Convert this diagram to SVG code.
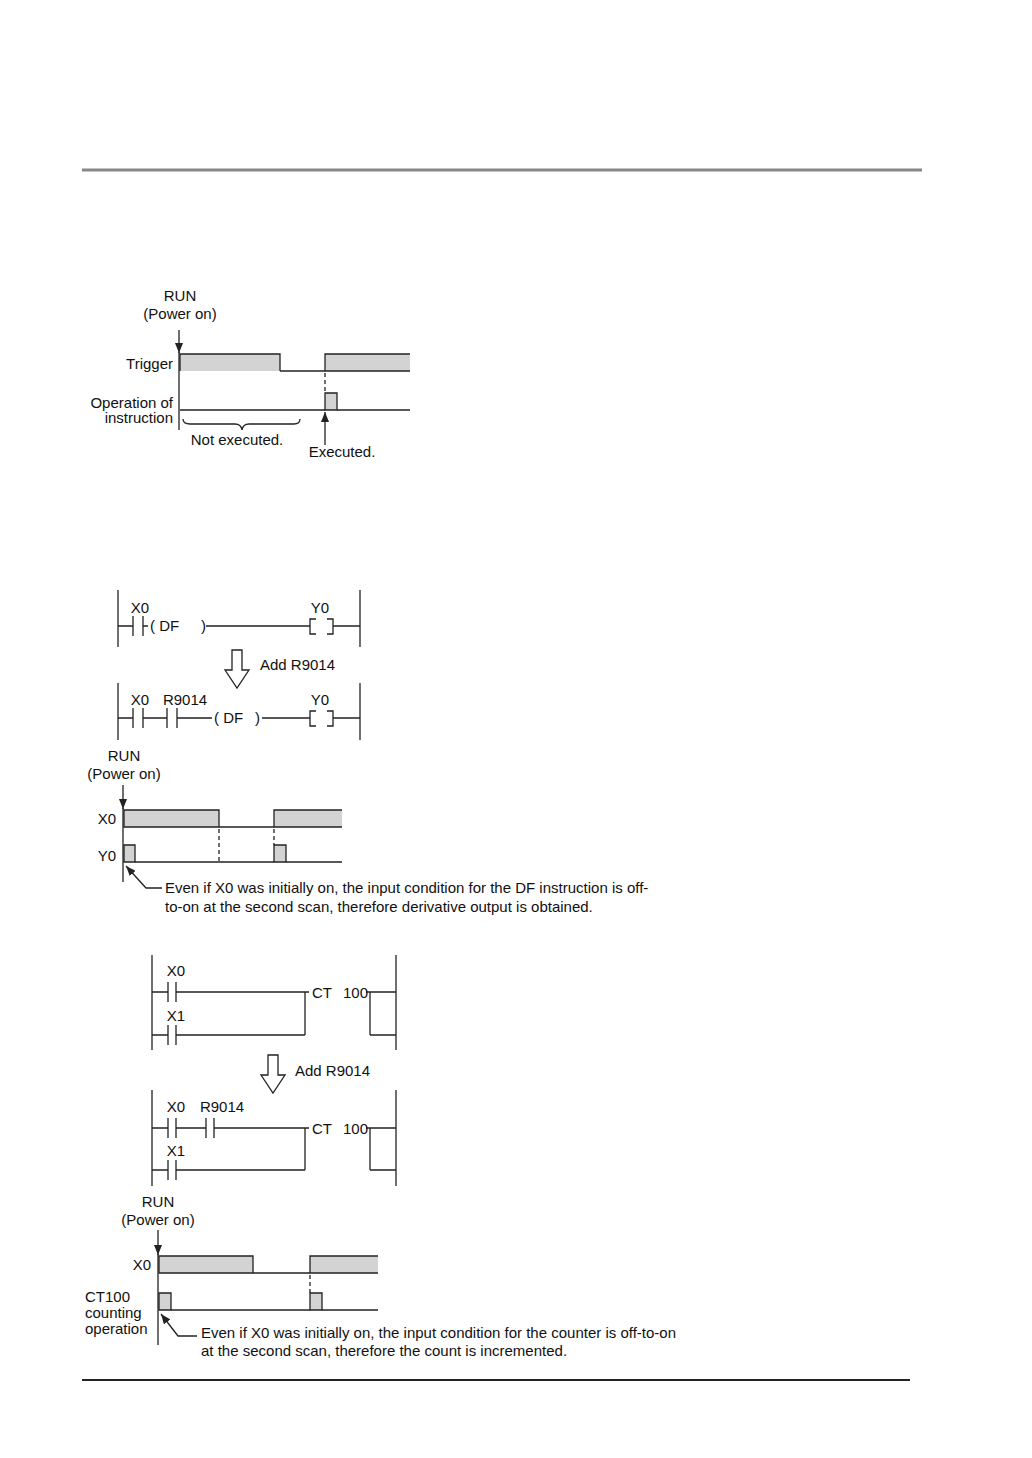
<svg xmlns="http://www.w3.org/2000/svg" width="1032" height="1458" viewBox="0 0 1032 1458">
<style>
text{font-family:"Liberation Sans",Arial,sans-serif;font-size:15px;fill:#111}
.m{text-anchor:middle}.e{text-anchor:end}
.l{stroke:#222;stroke-width:1.3;fill:none}
.g{fill:#d3d3d3;stroke:#222;stroke-width:1.3}
.d{stroke:#222;stroke-width:1.3;stroke-dasharray:4,3;fill:none}
.ar{fill:#fff;stroke:#222;stroke-width:1.3}
</style>
<defs><marker id="ah" markerWidth="10" markerHeight="8" refX="10" refY="4" orient="auto" markerUnits="userSpaceOnUse" viewBox="0 0 10 8"><path d="M0,0 L10,4 L0,8 Z" fill="#222"/></marker></defs>
<rect width="1032" height="1458" fill="#fff"/>
<line x1="82" y1="170" x2="922" y2="170" stroke="#888" stroke-width="3"/>
<line x1="82" y1="1380" x2="910" y2="1380" stroke="#222" stroke-width="2"/>

<g id="timing1">
<text class="m" x="180" y="301">RUN</text><text class="m" x="180" y="319">(Power on)</text>
<line class="l" x1="179" y1="352" x2="179" y2="430"/>
<line class="l" x1="179" y1="330" x2="179" y2="353" marker-end="url(#ah)"/>
<text class="e" x="173" y="369">Trigger</text>
<path class="g" d="M180,371 V354 H280 V371"/><path class="l" d="M280,371 H325"/>
<path class="g" d="M410,371 H325 V354 H410" />
<text class="e" x="173" y="408">Operation of</text><text class="e" x="173" y="423">instruction</text>
<path class="l" d="M180,410 H325"/><path class="g" d="M325,410 V393 H337 V410 Z"/><path class="l" d="M337,410 H410"/>
<line class="d" x1="325" y1="373" x2="325" y2="393"/>
<path class="l" d="M183,419 Q183,424 190,424 H235 Q241,424 242,430 Q243,424 249,424 H294 Q300,424 300,419"/>
<text class="m" x="237" y="445">Not executed.</text>
<line class="l" x1="325" y1="445" x2="325" y2="412" marker-end="url(#ah)"/>
<text class="m" x="342" y="457">Executed.</text>
</g>

<g id="ladder1">
<line class="l" x1="118" y1="590" x2="118" y2="647"/><line class="l" x1="360" y1="590" x2="360" y2="647"/>
<path class="l" d="M118,626 H133 M133,616 V636 M143,616 V636 M143,626 H148"/>
<text x="150" y="631">( DF</text><text x="201" y="631">)</text>
<path class="l" d="M206,626 H310 M316,619 H310 V634 H316 M327,619 H333 V634 H327 M333,626 H360"/>
<text class="m" x="140" y="613">X0</text><text class="m" x="320" y="613">Y0</text>
<path class="ar" d="M232,650 H242 V670 H249 L237,688 L225,670 H232 Z"/>
<text x="260" y="670">Add R9014</text>
<line class="l" x1="118" y1="683" x2="118" y2="740"/><line class="l" x1="360" y1="683" x2="360" y2="740"/>
<path class="l" d="M118,718 H133 M133,708 V728 M143,708 V728 M143,718 H167 M167,708 V728 M177,708 V728 M177,718 H212"/>
<text x="214" y="723">( DF</text><text x="255" y="723">)</text>
<path class="l" d="M262,718 H310 M316,711 H310 V726 H316 M327,711 H333 V726 H327 M333,718 H360"/>
<text class="m" x="140" y="705">X0</text><text class="m" x="185" y="705">R9014</text><text class="m" x="320" y="705">Y0</text>
</g>

<g id="timing2">
<text class="m" x="124" y="761">RUN</text><text class="m" x="124" y="779">(Power on)</text>
<line class="l" x1="123" y1="808" x2="123" y2="882"/>
<line class="l" x1="123" y1="785" x2="123" y2="809" marker-end="url(#ah)"/>
<text class="e" x="116" y="824">X0</text>
<path class="g" d="M124,827 V810 H219 V827 Z"/><path class="l" d="M219,827 H274"/>
<path class="g" d="M342,827 H274 V810 H342"/>
<text class="e" x="116" y="861">Y0</text>
<path class="g" d="M124,862 V845 H135 V862 Z"/><path class="l" d="M135,862 H274"/>
<path class="g" d="M274,862 V845 H286 V862 Z"/><path class="l" d="M286,862 H342"/>
<line class="d" x1="219" y1="829" x2="219" y2="862"/><line class="d" x1="274" y1="829" x2="274" y2="845"/>
<path class="l" d="M162,888 H146 L126,866" marker-end="url(#ah)"/>
<text x="165" y="893">Even if X0 was initially on, the input condition for the DF instruction is off-</text>
<text x="165" y="912">to-on at the second scan, therefore derivative output is obtained.</text>
</g>

<g id="ladder2">
<line class="l" x1="152" y1="955" x2="152" y2="1050"/><line class="l" x1="396" y1="955" x2="396" y2="1050"/>
<path class="l" d="M152,992 H168 M168,982 V1002 M176,982 V1002 M176,992 H305 M305,1035 V992 H309"/>
<path class="l" d="M366,992 H370 V1035 M370,992 H396"/>
<path class="l" d="M152,1035 H168 M168,1025 V1045 M176,1025 V1045 M176,1035 H305 M370,1035 H396"/>
<text x="312" y="998">CT</text><text x="343" y="998">100</text>
<text class="m" x="176" y="976">X0</text><text class="m" x="176" y="1021">X1</text>
<path class="ar" d="M268,1055 H278 V1075 H285 L273,1093 L261,1075 H268 Z"/>
<text x="295" y="1076">Add R9014</text>
<line class="l" x1="152" y1="1090" x2="152" y2="1186"/><line class="l" x1="396" y1="1090" x2="396" y2="1186"/>
<path class="l" d="M152,1128 H168 M168,1118 V1138 M176,1118 V1138 M176,1128 H206 M206,1118 V1138 M214,1118 V1138 M214,1128 H305 M305,1170 V1128 H309"/>
<path class="l" d="M366,1128 H370 V1170 M370,1128 H396"/>
<path class="l" d="M152,1170 H168 M168,1160 V1180 M176,1160 V1180 M176,1170 H305 M370,1170 H396"/>
<text x="312" y="1134">CT</text><text x="343" y="1134">100</text>
<text class="m" x="176" y="1112">X0</text><text class="m" x="222" y="1112">R9014</text><text class="m" x="176" y="1156">X1</text>
</g>

<g id="timing3">
<text class="m" x="158" y="1207">RUN</text><text class="m" x="158" y="1225">(Power on)</text>
<line class="l" x1="158" y1="1254" x2="158" y2="1345"/>
<line class="l" x1="158" y1="1230" x2="158" y2="1255" marker-end="url(#ah)"/>
<text class="e" x="151" y="1270">X0</text>
<path class="g" d="M159,1273 V1256 H253 V1273 Z"/><path class="l" d="M253,1273 H310"/>
<path class="g" d="M378,1273 H310 V1256 H378"/>
<text x="85" y="1302">CT100</text><text x="85" y="1318">counting</text><text x="85" y="1334">operation</text>
<path class="g" d="M159,1310 V1293 H171 V1310 Z"/><path class="l" d="M171,1310 H310"/>
<path class="g" d="M310,1310 V1293 H322 V1310 Z"/><path class="l" d="M322,1310 H378"/>
<line class="d" x1="310" y1="1275" x2="310" y2="1293"/>
<path class="l" d="M197,1336 H178 L161,1314" marker-end="url(#ah)"/>
<text x="201" y="1338">Even if X0 was initially on, the input condition for the counter is off-to-on</text>
<text x="201" y="1356">at the second scan, therefore the count is incremented.</text>
</g>
</svg>
